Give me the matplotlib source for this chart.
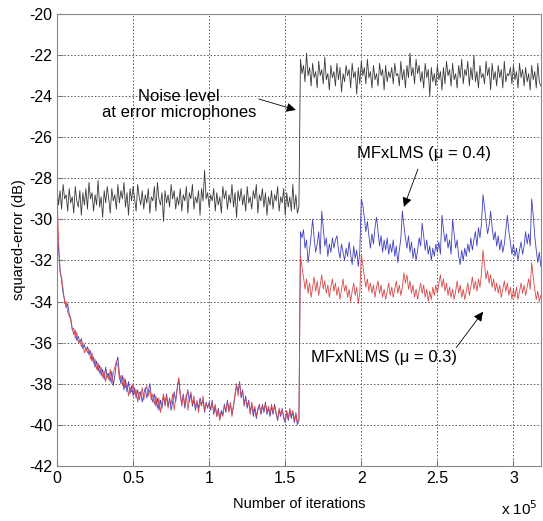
import numpy as np
import matplotlib
matplotlib.use('Agg')
import matplotlib.pyplot as plt
from matplotlib.ticker import FuncFormatter

plt.rcParams['font.family'] = ['Liberation Sans', 'DejaVu Sans']
plt.rcParams['axes.unicode_minus'] = False

# squared error (dB), one value per 1000 iterations
noise_db = [
 -28.4,-29.3,-28.6,-29.5,-28.3,-29.0,-28.8,-29.6,-28.5,-29.2,-28.9,-29.7,-28.4,-29.1,-29.4,-28.6,-29.8,-28.7,-29.3,-28.5,
 -29.5,-28.2,-29.0,-28.7,-29.6,-28.8,-29.3,-28.1,-29.4,-28.9,-29.9,-28.6,-29.2,-28.4,-29.0,-29.7,-28.5,-29.1,-28.8,-29.5,
 -28.3,-29.2,-28.6,-29.0,-28.2,-29.4,-28.7,-29.8,-28.5,-29.1,-28.4,-29.0,-29.6,-28.3,-28.9,-29.3,-28.6,-29.5,-28.8,-29.2,
 -28.5,-29.7,-28.9,-29.1,-28.4,-29.6,-28.2,-29.0,-29.3,-28.7,-30.1,-28.6,-29.2,-28.8,-29.4,-28.3,-29.0,-28.6,-29.5,-28.9,
 -29.3,-28.5,-29.6,-28.8,-29.1,-28.4,-29.7,-28.7,-29.0,-28.3,-29.5,-28.9,-29.2,-28.6,-29.8,-28.5,-29.1,-27.6,-29.0,-28.7,
 -29.4,-28.8,-29.1,-28.5,-29.6,-28.7,-29.3,-28.9,-29.7,-28.4,-29.0,-28.6,-29.5,-28.8,-29.2,-28.3,-29.4,-28.7,-29.9,-28.6,
 -29.1,-28.5,-29.3,-28.8,-29.6,-28.4,-29.2,-28.9,-29.5,-28.6,-29.0,-28.3,-29.7,-28.8,-29.1,-28.5,-29.4,-28.7,-29.8,-28.9,
 -29.3,-28.6,-29.5,-28.8,-29.1,-28.4,-29.6,-28.9,-29.2,-28.5,-29.8,-28.7,-29.4,-28.9,-29.6,-28.3,-29.5,-28.8,-29.7,-29.4,
 -22.2,-22.9,-22.5,-23.3,-21.9,-23.0,-22.6,-23.5,-22.4,-23.1,-22.8,-23.6,-22.3,-23.0,-22.7,-23.4,-22.1,-23.2,-22.9,-23.7,
 -22.5,-23.1,-22.8,-23.5,-22.4,-23.2,-22.6,-23.8,-22.9,-23.3,-22.5,-23.0,-22.7,-23.6,-22.4,-23.1,-22.8,-23.9,-22.6,-23.4,
 -22.3,-23.0,-22.6,-23.4,-22.2,-23.1,-22.8,-23.6,-22.5,-23.2,-22.9,-23.5,-22.4,-23.0,-22.7,-23.7,-22.5,-23.3,-22.8,-23.1,
 -22.6,-23.4,-22.4,-23.0,-22.9,-23.5,-22.3,-23.2,-22.7,-23.6,-22.5,-23.1,-21.9,-23.0,-22.6,-23.4,-22.2,-22.9,-22.5,-23.3,
 -22.8,-23.6,-22.4,-23.1,-22.7,-24.0,-22.6,-23.3,-22.9,-23.5,-22.5,-23.2,-22.8,-23.7,-22.6,-23.4,-22.3,-23.0,-22.7,-23.5,
 -22.4,-23.2,-22.9,-23.6,-22.5,-23.1,-22.2,-23.4,-22.7,-23.0,-22.3,-23.5,-22.6,-23.2,-22.0,-23.3,-22.8,-23.6,-22.5,-23.1,
 -22.9,-23.4,-22.3,-23.0,-22.6,-23.7,-22.4,-23.2,-22.8,-23.5,-22.5,-23.1,-22.7,-23.6,-22.3,-23.3,-22.9,-23.0,-22.6,-23.4,
 -22.5,-23.2,-22.8,-23.6,-22.4,-23.1,-22.7,-23.5,-22.6,-23.3,-22.9,-23.7,-22.5,-23.2,-22.8,-23.6,-22.4,-23.3,-23.5]

mfxlms_db = [
 -30.0,-31.5,-32.4,-33.0,-33.6,-33.9,-34.3,-34.1,-34.6,-34.8,-35.3,-35.6,-35.4,-35.9,-35.7,-36.0,-35.8,-36.3,-36.1,-36.4,
 -36.2,-36.6,-36.4,-36.9,-36.7,-37.2,-36.9,-37.4,-37.1,-37.6,-37.3,-37.8,-37.2,-37.7,-37.5,-37.9,-37.4,-38.1,-37.6,-37.0,
 -36.7,-37.5,-38.0,-37.6,-38.3,-37.8,-38.4,-37.9,-38.5,-38.1,-38.6,-38.2,-38.7,-38.3,-38.8,-38.4,-38.9,-38.5,-38.2,-38.7,
 -38.4,-38.0,-38.6,-38.9,-38.5,-39.1,-38.7,-39.3,-38.8,-39.2,-38.6,-39.0,-38.5,-39.1,-38.7,-39.3,-38.9,-38.4,-38.9,-38.2,
 -37.8,-38.6,-39.0,-38.5,-39.2,-38.7,-38.3,-38.9,-38.5,-39.1,-38.8,-39.3,-38.9,-39.2,-38.7,-39.0,-38.8,-39.4,-38.9,-39.2,
 -38.9,-39.3,-38.8,-39.5,-39.1,-39.6,-39.2,-39.7,-39.3,-39.5,-39.0,-39.4,-38.8,-39.3,-39.0,-39.5,-39.1,-38.6,-38.1,-38.4,
 -37.9,-38.7,-38.3,-39.0,-38.6,-39.2,-38.8,-39.4,-39.0,-39.6,-39.2,-39.7,-39.3,-39.0,-39.5,-39.1,-39.4,-38.9,-39.5,-39.2,
 -39.6,-39.1,-39.5,-39.0,-39.4,-39.8,-39.3,-39.6,-39.2,-39.7,-39.9,-39.4,-39.8,-39.3,-39.7,-39.4,-39.9,-39.5,-40.0,-39.8,
 -30.6,-30.9,-30.5,-31.4,-31.0,-32.1,-31.5,-30.8,-30.0,-30.9,-31.6,-31.2,-30.6,-31.7,-29.6,-30.4,-31.3,-30.9,-31.8,-31.2,
 -31.6,-30.9,-31.4,-31.0,-30.8,-31.5,-31.9,-31.2,-31.6,-32.0,-31.4,-31.8,-31.1,-31.7,-32.2,-31.3,-31.9,-31.5,-32.3,-31.6,
 -29.0,-29.3,-29.9,-30.6,-30.1,-30.8,-31.4,-30.7,-31.2,-30.4,-29.9,-30.6,-31.3,-30.8,-31.6,-31.0,-31.5,-30.9,-31.7,-31.2,
 -31.6,-31.0,-31.8,-31.3,-32.1,-31.5,-30.9,-29.6,-30.3,-30.9,-31.4,-30.8,-31.6,-31.1,-31.9,-31.4,-32.0,-31.5,-30.9,-31.3,
 -30.2,-30.8,-31.5,-31.0,-31.7,-31.3,-32.0,-31.4,-31.8,-31.2,-31.6,-31.1,-31.7,-29.8,-30.5,-31.1,-30.7,-31.4,-31.0,-31.7,
 -30.0,-30.7,-31.4,-31.0,-31.8,-32.2,-31.5,-32.0,-31.4,-31.8,-31.2,-31.6,-30.9,-31.5,-31.0,-30.6,-31.3,-30.4,-30.9,-30.2,
 -28.8,-29.4,-30.1,-30.7,-30.3,-29.6,-30.4,-31.0,-30.6,-31.3,-30.8,-31.5,-31.0,-31.6,-31.2,-30.5,-29.8,-30.6,-31.1,-31.7,
 -31.2,-31.8,-31.4,-32.0,-31.5,-31.1,-31.7,-31.3,-30.6,-31.2,-30.7,-31.3,-29.0,-29.8,-30.8,-31.5,-32.1,-31.6,-32.3]

mfxnlms_db = [
 -28.6,-31.0,-32.6,-32.8,-33.4,-34.1,-34.0,-34.5,-34.7,-34.9,-35.4,-35.3,-35.8,-35.5,-36.0,-35.9,-36.2,-36.0,-36.5,-36.3,
 -36.5,-36.3,-36.8,-36.5,-37.0,-36.8,-37.3,-37.0,-37.5,-37.2,-37.7,-37.4,-37.9,-37.5,-37.8,-37.3,-38.0,-37.5,-37.2,-36.9,
 -37.1,-37.8,-37.6,-38.1,-37.7,-38.2,-38.0,-38.6,-38.2,-38.4,-38.0,-38.5,-38.3,-38.9,-38.4,-38.6,-38.2,-38.8,-38.4,-38.1,
 -38.6,-38.3,-38.8,-38.5,-39.0,-38.6,-39.2,-38.7,-39.4,-38.9,-38.5,-39.1,-38.6,-39.2,-38.8,-39.0,-38.5,-39.3,-38.7,-38.3,
 -37.7,-38.4,-39.1,-38.6,-39.0,-38.5,-39.3,-38.7,-38.4,-39.0,-38.6,-39.2,-38.8,-39.4,-38.9,-39.1,-38.6,-39.3,-39.0,-39.1,
 -39.0,-39.2,-38.9,-39.4,-39.0,-39.6,-39.3,-39.8,-39.4,-39.6,-39.1,-39.3,-38.9,-39.4,-38.9,-39.6,-39.0,-38.5,-38.0,-38.6,
 -38.0,-38.5,-38.4,-39.1,-38.7,-39.0,-38.9,-39.5,-38.9,-39.4,-39.1,-39.6,-39.2,-39.1,-39.4,-39.0,-39.3,-39.0,-39.4,-39.1,
 -39.5,-39.0,-39.4,-39.1,-39.5,-39.7,-39.2,-39.5,-39.3,-39.6,-39.8,-39.3,-39.7,-39.2,-39.6,-39.3,-39.8,-39.4,-39.9,-39.7,
 -31.8,-32.3,-32.8,-33.4,-32.9,-33.6,-33.1,-33.8,-33.3,-32.8,-33.5,-33.0,-33.7,-33.2,-32.7,-33.4,-33.0,-33.6,-33.2,-33.8,
 -33.3,-32.9,-33.5,-33.1,-33.7,-33.3,-33.9,-33.4,-32.9,-33.5,-33.2,-33.8,-33.4,-34.0,-33.5,-33.1,-33.7,-33.3,-34.1,-33.6,
 -31.7,-32.2,-32.8,-33.3,-32.9,-33.5,-33.1,-33.6,-33.2,-33.8,-33.3,-33.0,-33.6,-33.2,-33.8,-33.4,-33.9,-33.5,-33.1,-33.7,
 -33.3,-33.8,-33.4,-33.0,-33.6,-33.2,-33.7,-33.3,-32.6,-33.1,-32.7,-33.4,-33.0,-33.6,-33.2,-33.8,-33.4,-33.9,-33.5,-33.1,
 -33.6,-33.2,-33.8,-33.4,-34.0,-33.5,-33.9,-33.3,-33.7,-33.2,-33.6,-33.1,-32.7,-33.3,-32.9,-33.5,-33.1,-33.7,-33.3,-33.8,
 -33.4,-33.9,-33.5,-33.0,-33.6,-33.2,-33.8,-33.4,-33.9,-33.5,-33.1,-33.7,-33.3,-32.8,-33.4,-33.0,-33.5,-32.9,-33.3,-32.6,
 -31.5,-32.2,-32.9,-32.5,-33.1,-32.7,-33.3,-32.9,-33.5,-33.1,-33.6,-33.2,-33.8,-33.4,-33.0,-33.5,-33.1,-33.7,-33.3,-33.9,
 -33.4,-33.8,-33.3,-33.9,-33.5,-33.1,-33.6,-33.2,-33.7,-33.3,-32.9,-33.4,-32.1,-32.8,-33.4,-33.9,-33.5,-34.0,-33.7]

step = 1000
iters = np.arange(len(noise_db)) * step

fig = plt.figure(figsize=(5.43, 5.21), dpi=100)
ax = fig.add_axes([0.105, 0.106, 0.891, 0.867])

ax.plot(iters, noise_db, color='#3a3a3a', lw=0.6)
ax.plot(iters, mfxlms_db, color='#4040c0', lw=0.6)
ax.plot(iters, mfxnlms_db, color='#d84a4a', lw=0.6)

ax.set_xlim(0, 3.18e5)
ax.set_ylim(-42, -20)
ax.set_yticks(np.arange(-42, -19, 2))
ax.set_xticks(np.arange(0, 3.01e5, 0.5e5))
ax.xaxis.set_major_formatter(FuncFormatter(lambda v, p: '%g' % (v / 1e5)))
ax.grid(True, ls=(0, (1.5, 2)), color='#555555', lw=0.7)
ax.tick_params(direction='in', labelsize=11.5, length=4, color='#777777')
for s in ax.spines.values():
    s.set_color('#888888')

ax.set_xlabel('Number of iterations', fontsize=10.5, labelpad=8)
ax.set_ylabel('squared-error (dB)', fontsize=10.5, labelpad=2)
fig.text(0.99, 0.006, 'x 10$^5$', ha='right', va='bottom', fontsize=11)

ax.annotate('Noise level\nat error microphones', xy=(1.57e5, -24.67), xytext=(0.80e5, -24.4),
            ha='center', va='center', fontsize=12, linespacing=1.1,
            arrowprops=dict(arrowstyle='-|>', color='black', lw=0.6, mutation_scale=14,
                            shrinkA=0, shrinkB=0, relpos=(1.0, 0.7)))
ax.annotate('MFxLMS (\u03bc = 0.4)', xy=(2.28e5, -29.39), xytext=(2.41e5, -26.8),
            ha='center', va='center', fontsize=12,
            arrowprops=dict(arrowstyle='-|>', color='black', lw=0.6, mutation_scale=14,
                            shrinkA=4, shrinkB=0))
ax.annotate('MFxNLMS (\u03bc = 0.3)', xy=(2.80e5, -34.5), xytext=(2.15e5, -36.74),
            ha='center', va='center', fontsize=12,
            arrowprops=dict(arrowstyle='-|>', color='black', lw=0.6, mutation_scale=14,
                            shrinkA=0, shrinkB=0, relpos=(0.98, 1.0)))

fig.savefig('out.png', dpi=100)
